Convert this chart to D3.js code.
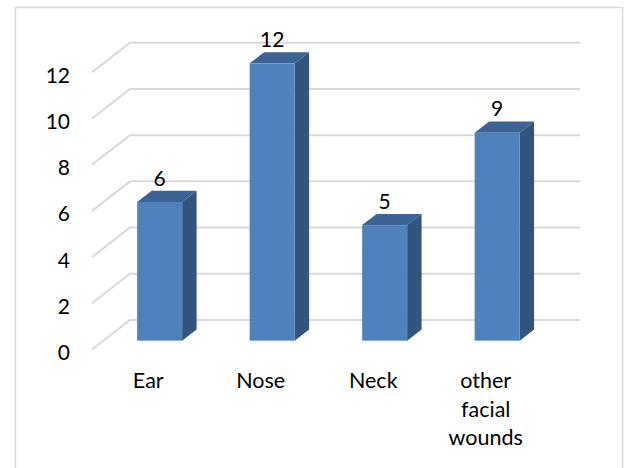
<!DOCTYPE html>
<html>
<head>
<meta charset="utf-8">
<script src="https://cdn.jsdelivr.net/npm/d3@7"></script>
<style>
  html, body { margin: 0; padding: 0; background: #fff; }
  svg { display: block; }
  text { font-family: Lato, "Open Sans", sans-serif; fill: #000; }
</style>
</head>
<body>
<svg id="chart" width="626" height="468"></svg>
<script>
// Wound locations and counts
const categories = ["Ear", "Nose", "Neck", "other facial wounds"];
const categoryLines = [["Ear"], ["Nose"], ["Neck"], ["other", "facial", "wounds"]];
const values = [6, 12, 5, 9];
const yTicks = [0, 2, 4, 6, 8, 10, 12];

const svg = d3.select("#chart");

// Chart frame
svg.append("rect")
  .attr("x", 15.5).attr("y", 7.5)
  .attr("width", 607).attr("height", 470)
  .attr("fill", "#fff").attr("stroke", "#d9d9d9").attr("stroke-width", 1.5);

// 3D geometry: back wall plane and floor depth vector (back -> front)
const wallLeft = 130, wallRight = 580;
const depthX = -38, depthY = 29.5;
const frontDepth = 0.7, backDepth = 0.32;

const y = d3.scaleLinear().domain([0, 12]).range([320, 42.7]);
const x = d3.scaleBand().domain(categories).range([0, wallRight - wallLeft])
  .paddingInner(0.6).paddingOuter(0.3);

// Gridlines: diagonal on the side floor, then across the back wall
const grid = svg.append("g");
yTicks.forEach(t => {
  const yb = y(t);
  grid.append("polyline")
    .attr("points", [[wallLeft + depthX, yb + depthY], [wallLeft, yb], [wallRight, yb]].map(p => p.join(",")).join(" "))
    .attr("fill", "none").attr("stroke", "#d9d9d9").attr("stroke-width", 2);
});

// Y tick labels at the front ends of the gridlines
svg.append("g").selectAll("text").data(yTicks).join("text")
  .attr("x", 70)
  .attr("y", d => y(d) + depthY + 2)
  .attr("text-anchor", "end")
  .attr("dominant-baseline", "central")
  .attr("font-size", 21)
  .text(d => d);

// Bars drawn as three faces: front, side, top
const fx = wallLeft + frontDepth * depthX, fy = frontDepth * depthY;
const bx = wallLeft + backDepth * depthX, by = backDepth * depthY;
const dx = bx - fx, dy = by - fy;

const bars = svg.append("g").selectAll("g").data(categories).join("g");
bars.each(function(c, i) {
  const g = d3.select(this);
  const x0 = fx + x(c), x1 = x0 + x.bandwidth();
  const yTop = y(values[i]) + fy, yBot = y(0) + fy;
  // side face
  g.append("polygon")
    .attr("points", [[x1, yTop], [x1 + dx, yTop + dy], [x1 + dx, yBot + dy], [x1, yBot]].map(p => p.join(",")).join(" "))
    .attr("fill", "#32547f");
  // top face
  g.append("polygon")
    .attr("points", [[x0, yTop], [x0 + dx, yTop + dy], [x1 + dx, yTop + dy], [x1, yTop]].map(p => p.join(",")).join(" "))
    .attr("fill", "#3b6393");
  // front face
  g.append("rect")
    .attr("x", x0).attr("y", yTop)
    .attr("width", x.bandwidth()).attr("height", yBot - yTop)
    .attr("fill", "#4f81bd");
  // value label
  g.append("text")
    .attr("x", (x0 + x1) / 2)
    .attr("y", yTop + dy - 5)
    .attr("text-anchor", "middle")
    .attr("font-size", 21)
    .text(values[i]);
});

// Category labels along the front edge of the floor
const front0 = wallLeft + depthX;
const labels = svg.append("g").selectAll("text").data(categories).join("text")
  .attr("x", c => front0 + x(c) + x.bandwidth() / 2)
  .attr("y", 388)
  .attr("text-anchor", "middle")
  .attr("font-size", 21.5);
labels.each(function(c, i) {
  d3.select(this).selectAll("tspan").data(categoryLines[i]).join("tspan")
    .attr("x", front0 + x(c) + x.bandwidth() / 2)
    .attr("dy", (d, j) => j === 0 ? 0 : 28.5)
    .text(d => d);
});
</script>
</body>
</html>
